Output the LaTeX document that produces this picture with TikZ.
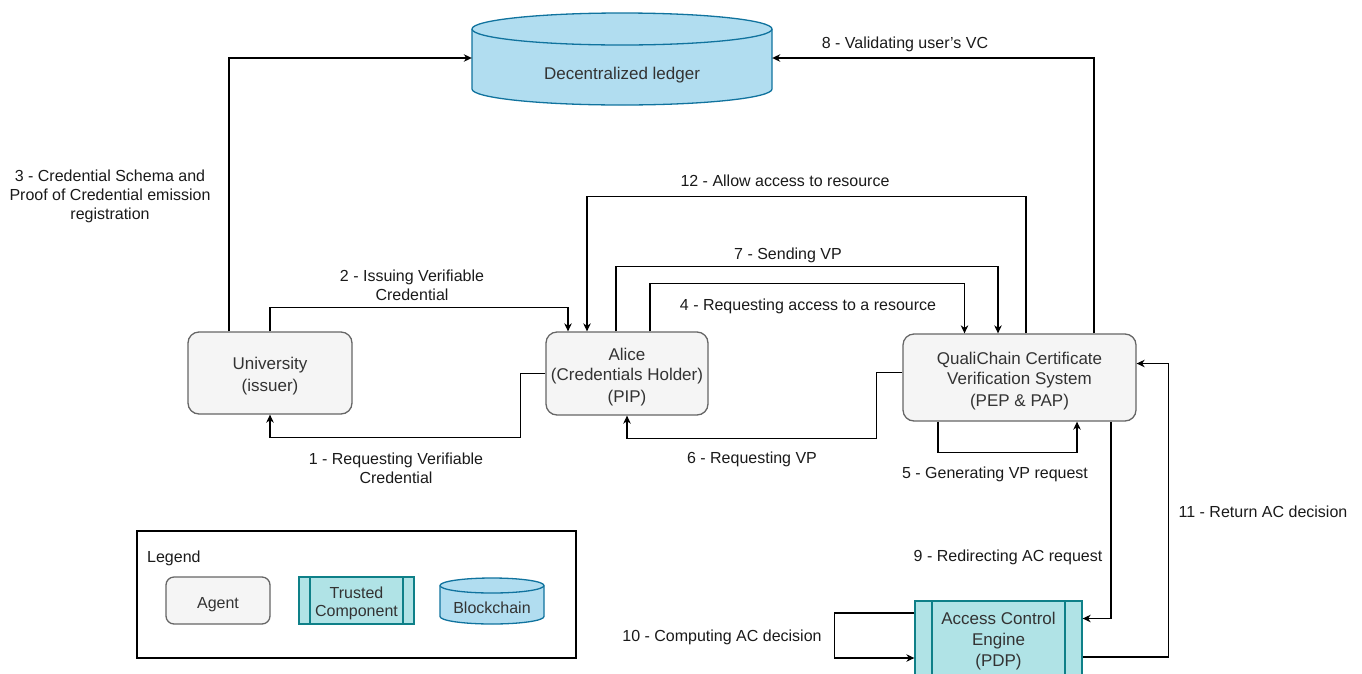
\documentclass[tikz,border=0pt]{standalone}
\usepackage{fontspec}
\setmainfont{Liberation Sans}
\usetikzlibrary{arrows.meta}
\definecolor{agentfill}{HTML}{F5F5F5}
\definecolor{agentline}{HTML}{666666}
\definecolor{nodetext}{HTML}{333333}
\definecolor{tcfill}{HTML}{B0E3E6}
\definecolor{tcline}{HTML}{0E8088}
\definecolor{dbfill}{HTML}{B1DDF0}
\definecolor{dbline}{HTML}{10739E}
\definecolor{lbltext}{HTML}{1A1A1A}
\newcommand{\toppad}[1][18.5pt]{\rule{0pt}{#1}}
% cylinder: center x, center y, half width, half height, ellipse radius
\newcommand{\dbcyl}[5]{%
  \filldraw[fill=dbfill,draw=dbline,line width=1.3pt] (#1-#3,#2+#4-#5) -- (#1-#3,#2-#4+#5)
    arc[start angle=180,end angle=360,x radius=#3,y radius=#5] -- (#1+#3,#2+#4-#5)
    arc[start angle=0,end angle=180,x radius=#3,y radius=#5] -- cycle;
  \draw[dbline,line width=1.3pt] (#1-#3,#2+#4-#5) arc[start angle=180,end angle=360,x radius=#3,y radius=#5];}
\begin{document}
\begin{tikzpicture}[x=1pt,y=1pt,
  agent/.style={draw=agentline,fill=agentfill,line width=1.3pt,rounded corners=11pt,
    align=center,text=nodetext,font=\fontsize{17pt}{21pt}\selectfont},
  trusted/.style={draw=tcline,fill=tcfill,line width=1.3pt,align=center,text=nodetext,
    font=\fontsize{17pt}{21pt}\selectfont,
    path picture={\draw[tcline,line width=1.3pt]
      ([xshift=#1]path picture bounding box.north west) -- ([xshift=#1]path picture bounding box.south west)
      ([xshift=-#1]path picture bounding box.north east) -- ([xshift=-#1]path picture bounding box.south east);}},
  trusted/.default=17pt,
  dbtext/.style={align=center,text=nodetext,font=\fontsize{17pt}{21pt}\selectfont},
  lbl/.style={align=center,inner sep=0pt,yshift=-1.5pt,text=lbltext,font=\fontsize{16pt}{19pt}\selectfont},
  arr/.style={draw=black,line width=1.2pt,-{Stealth[length=8pt,width=7.5pt,inset=2.5pt]}}]
\useasboundingbox (0,0) rectangle (1362,-673);
\dbcyl{622}{-59}{150}{46}{16}
\node[dbtext,minimum width=300pt] (ledger) at (622,-75) {Decentralized ledger};
\node[agent,minimum width=164pt,minimum height=82pt] (univ) at (270,-373) {\toppad University\\(issuer)};
\node[agent,minimum width=162pt,minimum height=83pt] (alice) at (627,-373.5) {\toppad Alice\\(Credentials Holder)\\(PIP)};
\node[agent,minimum width=233pt,minimum height=87pt] (qcv) at (1019.5,-377.5) {\toppad QualiChain Certificate\\Verification System\\(PEP \& PAP)};
\node[trusted,minimum width=167pt,minimum height=75pt] (ace) at (998.5,-638.5) {\toppad[16.5pt]Access Control\\Engine\\(PDP)};

\draw[arr] (alice.west) -- ++(-25,0) -- ++(0,-64) -| (univ.south);
\draw[arr] (univ.north) -- ++(0,24) -| ([xshift=-59pt]alice.north);
\draw[arr] ([xshift=-41pt]univ.north) |- ([yshift=17pt]ledger.west);
\draw[arr] ([xshift=23pt]alice.north) -- ++(0,48) -| ([xshift=-55pt]qcv.north);
\draw[arr] ([xshift=-81.5pt]qcv.south) -- ++(0,-31) -| ([xshift=57.5pt]qcv.south);
\draw[arr] ([yshift=5pt]qcv.west) -- ++(-26,0) -- ++(0,-66) -| (alice.south);
\draw[arr] ([xshift=-11pt]alice.north) -- ++(0,65) -| ([xshift=-21.5pt]qcv.north);
\draw[arr] ([xshift=74.5pt]qcv.north) |- ([yshift=17pt]ledger.east);
\draw[arr] ([xshift=91.5pt]qcv.south) |- ([yshift=20pt]ace.east);
\draw[arr] ([yshift=25.5pt]ace.west) -- ++(-80,0) -- ++(0,-45) -- ([yshift=-19.5pt]ace.west);
\draw[arr] ([yshift=-18.5pt]ace.east) -- ++(86,0) |- ([yshift=14pt]qcv.east);
\draw[arr] ([xshift=6.5pt]qcv.north) -- ++(0,137) -| ([xshift=-40pt]alice.north);

\node[lbl] (l1) at (396,-466.5) {1 - Requesting Verifiable\\Credential};
\node[lbl] (l2) at (412,-283.5) {2 - Issuing Verifiable\\Credential};
\node[lbl] (l3) at (110,-195) {3 - Credential Schema and\\Proof of Credential emission\\registration};
\node[lbl] (l4) at (808,-305) {4 - Requesting access to a resource};
\node[lbl] (l5) at (995,-473) {5 - Generating VP request};
\node[lbl] (l6) at (752,-458) {6 - Requesting VP};
\node[lbl] (l7) at (788,-254) {7 - Sending VP};
\node[lbl] (l8) at (905,-43) {8 - Validating user's VC};
\node[lbl] (l9) at (1008,-556) {9 - Redirecting AC request};
\node[lbl] (l10) at (722,-636) {10 - Computing AC decision};
\node[lbl] (l11) at (1263,-510) {11 - Return AC decision};
\node[lbl] (l12) at (785,-179) {12 - Allow access to resource};

\node[draw=black,line width=1.2pt,minimum width=439pt,minimum height=127pt] (legend) at (356.5,-594.5) {};
\node[lbl,anchor=west] (legtitle) at (147,-557) {Legend};
\node[agent,minimum width=104pt,minimum height=47pt,rounded corners=8pt,font=\fontsize{16pt}{18pt}\selectfont] (legagent) at (218,-600.5) {\toppad Agent};
\node[trusted=11pt,minimum width=115pt,minimum height=47pt,inner sep=0pt,font=\fontsize{16pt}{18pt}\selectfont] (legtrust) at (356.5,-600.5) {\toppad[17.5pt]Trusted\\Component};
\dbcyl{492}{-601}{52}{23}{7.5}
\node[dbtext,font=\fontsize{16pt}{18pt}\selectfont] (legdb) at (492,-608) {Blockchain};
\end{tikzpicture}
\end{document}
